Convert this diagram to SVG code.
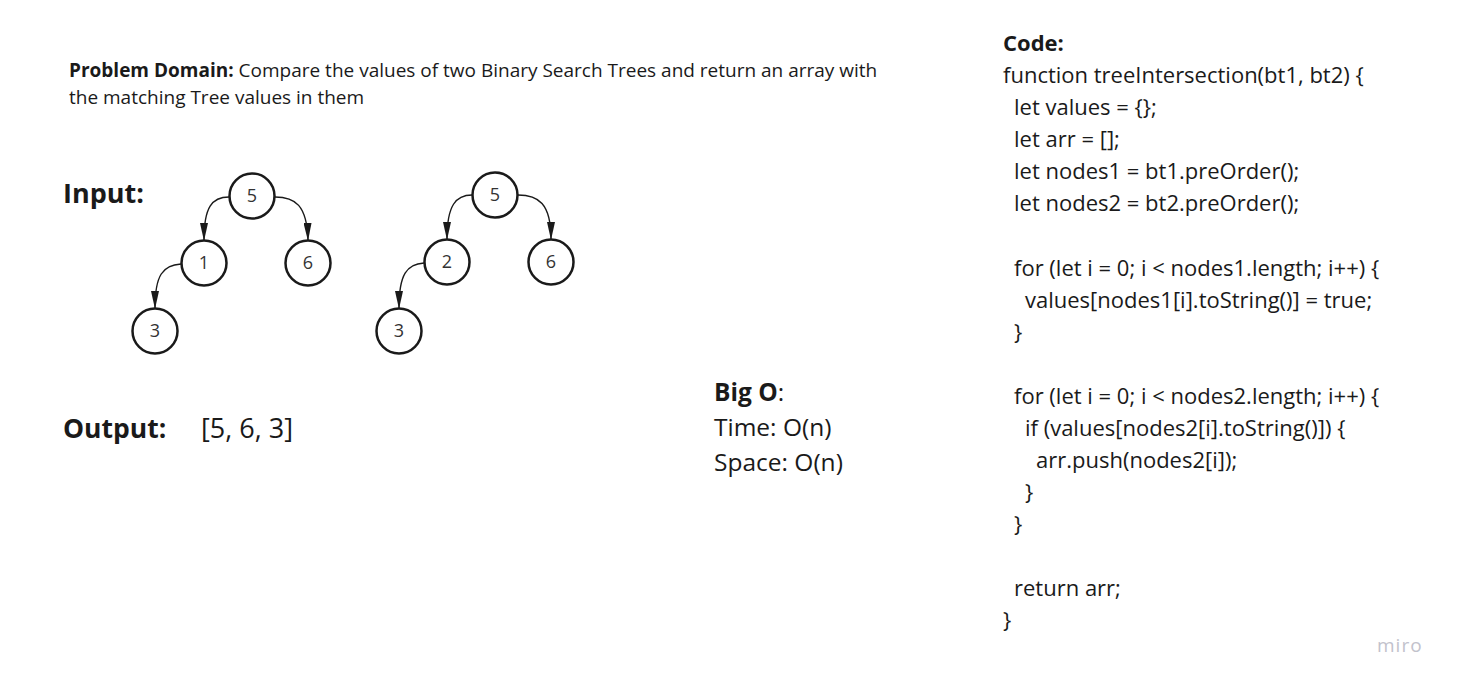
<svg xmlns="http://www.w3.org/2000/svg" width="1457" height="686" viewBox="0 0 1457 686">
<style>
text{font-family:"Open Sans","Liberation Sans",sans-serif;fill:#1a1a1a}
.b{font-weight:bold}
.node circle{fill:#fff;stroke:#1a1a1a;stroke-width:2.5}
.node text{font-size:18px;text-anchor:middle;fill:#333}
.edge{fill:none;stroke:#1a1a1a;stroke-width:1.4;marker-end:url(#ah)}
.code{font-size:22px}
</style>
<defs>
<marker id="ah" viewBox="0 0 18 8" refX="17" refY="4" markerWidth="18" markerHeight="8" markerUnits="userSpaceOnUse" orient="auto">
<path d="M0,0 L18,4 L0,8 Z" fill="#1a1a1a"/>
</marker>
</defs>
<rect width="1457" height="686" fill="#fff"/>
<text x="69" y="77" font-size="19"><tspan class="b">Problem Domain:</tspan> Compare the values of two Binary Search Trees and return an array with</text>
<text x="69" y="104" font-size="19">the matching Tree values in them</text>
<text x="63" y="203" font-size="27" class="b">Input:</text>
<text x="63" y="438" font-size="26.5" class="b">Output:</text>
<text x="201" y="438" font-size="27">[5, 6, 3]</text>
<g id="connectors">
<path class="edge" d="M229,197 C212,197 204,207 204,240"/>
<path class="edge" d="M275,197 C295,197 307,205 308,240"/>
<path class="edge" d="M181,264 C163,265 155,275 155,308"/>
<path class="edge" d="M472,195 C456,195 447,205 447,239"/>
<path class="edge" d="M518,195 C538,195 551,203 551,239"/>
<path class="edge" d="M424,263 C407,264 399,274 399,308"/>
</g>
<g id="t1n5" class="node"><circle cx="252" cy="196" r="22.5"/><text x="252" y="202">5</text></g>
<g id="t1n1" class="node"><circle cx="204" cy="263" r="22.5"/><text x="204" y="269">1</text></g>
<g id="t1n6" class="node"><circle cx="308" cy="263" r="22.5"/><text x="308" y="269">6</text></g>
<g id="t1n3" class="node"><circle cx="155" cy="331" r="22.5"/><text x="155" y="337">3</text></g>
<g id="t2n5" class="node"><circle cx="495" cy="195" r="22.5"/><text x="495" y="201">5</text></g>
<g id="t2n2" class="node"><circle cx="447" cy="262" r="22.5"/><text x="447" y="268">2</text></g>
<g id="t2n6" class="node"><circle cx="551" cy="262" r="22.5"/><text x="551" y="268">6</text></g>
<g id="t2n3" class="node"><circle cx="399" cy="331" r="22.5"/><text x="399" y="337">3</text></g>
<text x="714" y="401" font-size="24.5"><tspan class="b">Big O</tspan>:</text>
<text x="714" y="436" font-size="24.5">Time: O(n)</text>
<text x="714" y="471" font-size="24.5">Space: O(n)</text>
<text x="1003" y="51" font-size="22" class="b">Code:</text>
<g class="code">
<text x="1003" y="83" class="code">function treeIntersection(bt1, bt2) {</text>
<text x="1014" y="115" class="code">let values = {};</text>
<text x="1014" y="147" class="code">let arr = [];</text>
<text x="1014" y="179" class="code">let nodes1 = bt1.preOrder();</text>
<text x="1014" y="211" class="code">let nodes2 = bt2.preOrder();</text>
<text x="1014" y="276" class="code">for (let i = 0; i &lt; nodes1.length; i++) {</text>
<text x="1025" y="308" class="code">values[nodes1[i].toString()] = true;</text>
<text x="1014" y="340" class="code">}</text>
<text x="1014" y="404" class="code">for (let i = 0; i &lt; nodes2.length; i++) {</text>
<text x="1025" y="436" class="code">if (values[nodes2[i].toString()]) {</text>
<text x="1036" y="468" class="code">arr.push(nodes2[i]);</text>
<text x="1025" y="500" class="code">}</text>
<text x="1014" y="532" class="code">}</text>
<text x="1014" y="596" class="code">return arr;</text>
<text x="1003" y="628" class="code">}</text>
</g>
<text x="1377" y="652" font-size="19" style="fill:#c2c2cc;letter-spacing:1px">miro</text>
</svg>
